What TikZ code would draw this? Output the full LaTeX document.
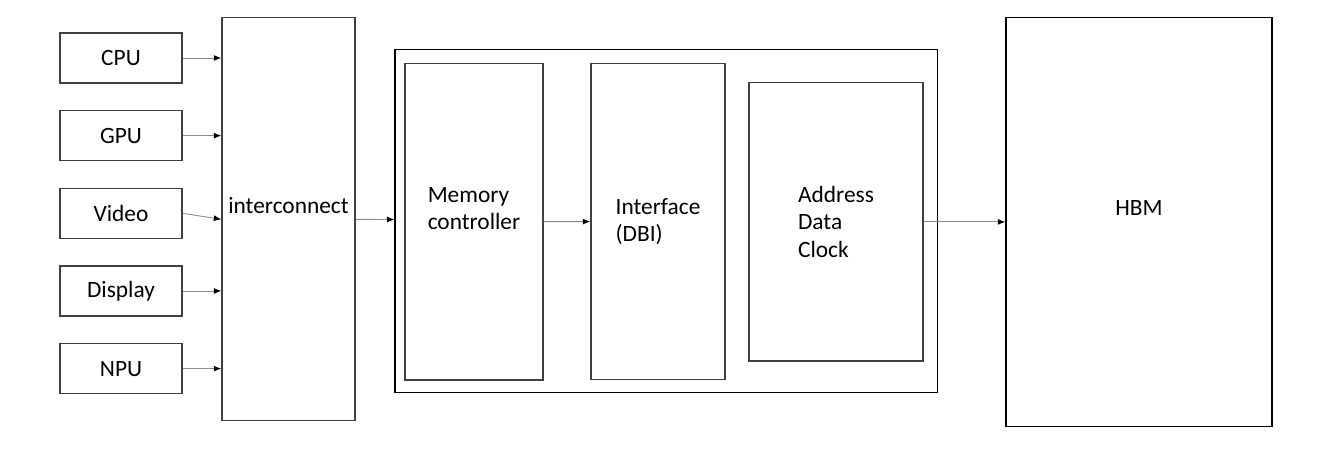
\documentclass[tikz,border=0pt]{standalone}
\usepackage{fontspec}
\setmainfont{Carlito}
\usetikzlibrary{positioning, arrows.meta, calc}

\begin{document}
\begin{tikzpicture}[
        x=0.2mm, y=-0.2mm,
        every node/.style={font=\fontsize{13.3}{15.4}\selectfont, align=center},
        box/.style={draw=black!75, line width=0.8pt},
        unit/.style={box, minimum width=24.4mm, minimum height=10mm},
        arrow/.style={-{Latex[length=1.5mm, width=1.2mm, color=black]}, draw=black!45, line width=0.5pt},
        node distance=5.25mm
    ]
    \useasboundingbox (0,0) rectangle (1320,448);

    % Nodes
    \node [unit] (cpu) at (121,58) {CPU};
    \node [unit, below=of cpu] (gpu) {GPU};
    \node [unit, below=of gpu] (video) {Video};
    \node [unit, below=of video] (display) {Display};
    \node [unit, below=of display] (npu) {NPU};
    \node [box, minimum width=26.6mm, minimum height=80.7mm] (ic) at (288.5,219) {interconnect\\~};
    \node [box, draw=black, minimum width=108.5mm, minimum height=68.6mm] (outer) at (666.4,220.9) {};
    \node [box, align=left, minimum width=27.6mm, minimum height=63.3mm] (mc) at (474,221.7) {Memory\\controller\\~};
    \node [box, align=left, minimum width=26.8mm, minimum height=63.3mm] (iface) at (658,221.5) {Interface\\(DBI)};
    \node [box, align=left, minimum width=34.8mm, minimum height=55.7mm] (addr) at (836,221.9) {Address\\Data\\Clock};
    \node [box, draw=black, minimum width=53.2mm, minimum height=81.8mm] (hbm) at (1139,221.9) {HBM\\~};

    % Arrows
    \draw [arrow] (cpu.east) -- (cpu.east -| ic.west);
    \draw [arrow] (gpu.east) -- (gpu.east -| ic.west);
    \draw [arrow] (video.east) -- ($(video.east -| ic.west)+(0,6)$);
    \draw [arrow] (display.east) -- (display.east -| ic.west);
    \draw [arrow] (npu.east) -- (npu.east -| ic.west);
    \draw [arrow] (ic) -- (outer);
    \draw [arrow] (mc) -- (iface);
    \draw [arrow] (addr) -- (hbm);

\end{tikzpicture}
\end{document}
